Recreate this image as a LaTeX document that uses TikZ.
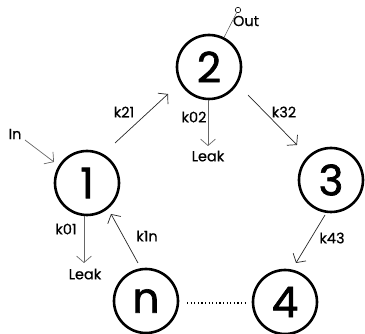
\documentclass[tikz,border=0pt]{standalone}
\usepackage{fontspec}
\setmainfont{Poppins}
\newfontfamily\numfont[FakeBold=1.6]{Poppins}
\newfontfamily\lblfont[FakeBold=0.6]{Poppins}
\usetikzlibrary{arrows.meta}
\tikzset{
  state/.style={circle,draw,line width=2.6pt,minimum size=64pt,inner sep=0pt,
    font=\numfont\fontsize{42}{42}\selectfont},
  lbl/.style={font=\lblfont\fontsize{14.5}{14.5}\selectfont,inner sep=0pt},
  flow/.style={draw=black!85,line width=0.7pt,-{Straight Barb[length=6.5pt,width=15pt]}},
  thin line/.style={draw=black!70,line width=0.5pt}
}
\begin{document}
\begin{tikzpicture}[x=1pt,y=-1pt]
\useasboundingbox (0,0) rectangle (365,334);
% states
\node[state] (n1) at (87,183) {1};
\node[state] (n2) at (209,67) {2};
\node[state] (n3) at (331,180) {3};
\node[state] (n4) at (285,302) {4};
\node[state] (nn) at (146,301) {n};
% connector end points
\coordinate (inS) at (25,140);
\coordinate (inE) at (54,162);
\coordinate (a21S) at (115,143);
\coordinate (a21E) at (168,94);
\coordinate (a02S) at (208,100);
\coordinate (a02E) at (208,146);
\coordinate (a32S) at (248,95);
\coordinate (a32E) at (297,145);
\coordinate (a01S) at (84,216);
\coordinate (a01E) at (84,263);
\coordinate (a1nS) at (138,263);
\coordinate (a1nE) at (111,214);
\coordinate (a43S) at (325,215);
\coordinate (a43E) at (296,263);
\coordinate (dotS) at (187,303);
\coordinate (dotE) at (248,303);
% out port
\node[circle,draw,line width=0.6pt,minimum size=5.5pt,inner sep=0pt] (out) at (238,10) {};
\draw[thin line] (n2) -- (out);
\node[lbl] (outlbl) at (246,21) {Out};
% arrows
\node[lbl] (inlbl) at (15,134) {In};
\draw[flow,draw=black!60] (inS) -- (inE);
\draw[flow] (a21S) -- (a21E);
\node[lbl] (k21) at (124,112) {k21};
\draw[flow,draw=black!60] (a02S) -- (a02E);
\node[lbl] (k02) at (194,117) {k02};
\node[lbl] (leak2) at (208,156) {Leak};
\draw[flow] (a32S) -- (a32E);
\node[lbl] (k32) at (284,112) {k32};
\draw[flow,draw=black!60] (a01S) -- (a01E);
\node[lbl] (k01) at (66,229) {k01};
\node[lbl] (leak1) at (85,274) {Leak};
\draw[flow] (a1nS) -- (a1nE);
\node[lbl] (k1n) at (147,236) {k1n};
\draw[flow] (a43S) -- (a43E);
\node[lbl] (k43) at (332,238) {k43};
% dotted link
\draw[line width=1.1pt,dash pattern=on 1.1pt off 2.5pt] (dotS) -- (dotE);
\end{tikzpicture}
\end{document}
